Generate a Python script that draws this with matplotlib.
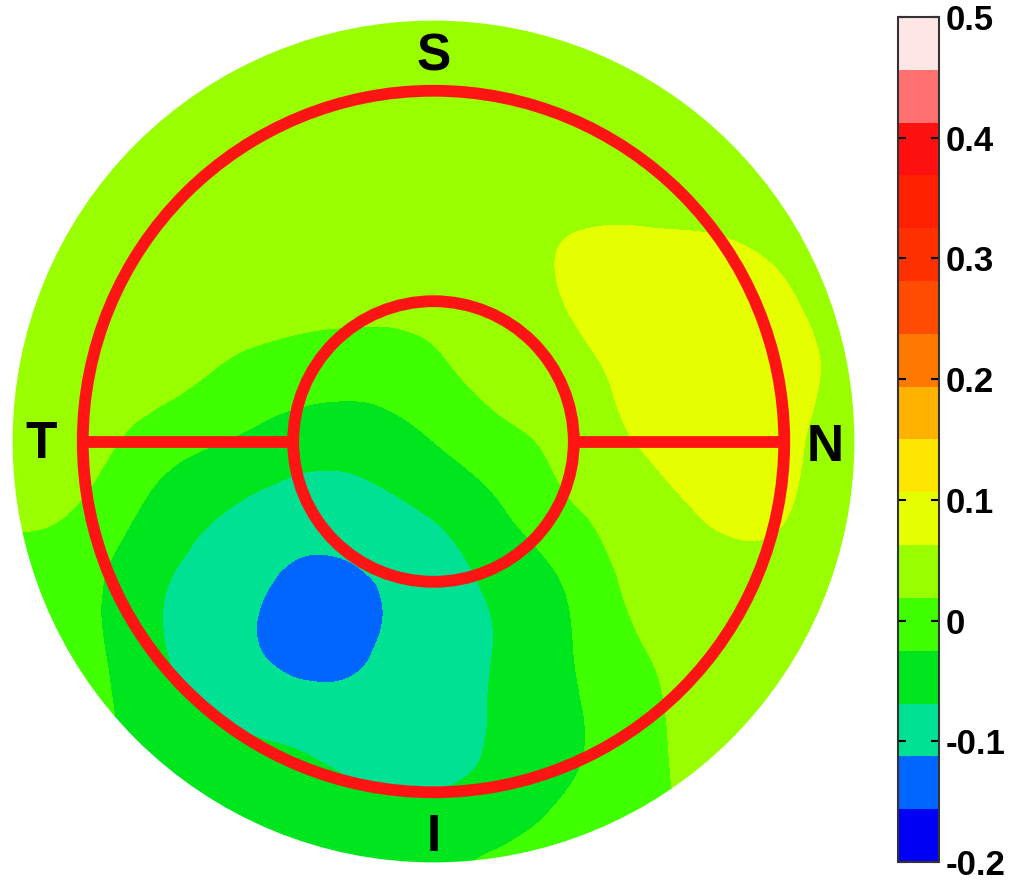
import numpy as np
import matplotlib
matplotlib.use("Agg")
import matplotlib.pyplot as plt
import matplotlib.tri as mtri
import matplotlib.colorbar as mcolorbar
from matplotlib.colors import ListedColormap, BoundaryNorm
from matplotlib.patches import Circle

x_nodes = [-3.0, -2.5, -2.0, -1.5, -1.0, -0.5, 0.0, 0.5, 1.0, 1.5, 2.0, 2.5, 3.0]
y_nodes = [3.0, 2.5, 2.0, 1.5, 1.0, 0.5, 0.0, -0.5, -1.0, -1.5, -2.0, -2.5, -3.0]

row_y30 = [0.040, 0.040, 0.040, 0.040, 0.040, 0.040, 0.040, 0.040, 0.040, 0.040, 0.040, 0.040, 0.040]
row_y25 = [0.040, 0.040, 0.040, 0.040, 0.040, 0.040, 0.040, 0.040, 0.043, 0.045, 0.045, 0.044, 0.040]
row_y20 = [0.040, 0.040, 0.040, 0.040, 0.040, 0.040, 0.040, 0.042, 0.046, 0.048, 0.048, 0.046, 0.042]
row_y15 = [0.040, 0.040, 0.040, 0.040, 0.040, 0.040, 0.040, 0.048, 0.062, 0.064, 0.061, 0.052, 0.045]
row_y10 = [0.040, 0.040, 0.040, 0.036, 0.030, 0.028, 0.032, 0.045, 0.066, 0.085, 0.090, 0.068, 0.045]
row_y05 = [0.040, 0.042, 0.036, 0.015, 0.000, -0.005, 0.008, 0.040, 0.052, 0.080, 0.090, 0.075, 0.050]
row_y00 = [0.034, 0.036, 0.000, -0.025, -0.047, -0.050, -0.025, 0.005, 0.036, 0.067, 0.085, 0.070, 0.045]
row_ym05 = [0.022, 0.013, -0.036, -0.068, -0.089, -0.085, -0.064, -0.027, 0.015, 0.042, 0.068, 0.064, 0.045]
row_ym10 = [0.010, -0.010, -0.060, -0.090, -0.120, -0.116, -0.090, -0.056, -0.016, 0.035, 0.050, 0.050, 0.040]
row_ym15 = [0.005, -0.010, -0.060, -0.095, -0.123, -0.116, -0.090, -0.064, -0.025, 0.017, 0.040, 0.040, 0.040]
row_ym20 = [0.000, -0.010, -0.045, -0.070, -0.085, -0.095, -0.093, -0.060, -0.030, 0.007, 0.035, 0.040, 0.040]
row_ym25 = [-0.010, -0.020, -0.030, -0.040, -0.050, -0.066, -0.068, -0.050, -0.022, 0.005, 0.035, 0.035, 0.030]
row_ym30 = [-0.010, -0.020, -0.030, -0.040, -0.040, -0.040, -0.035, -0.015, 0.000, 0.010, 0.025, 0.030, 0.030]

level_bounds = np.linspace(-0.2, 0.5, 17)
level_colors = ['#0000F5', '#0066FF', '#00E194', '#00E61E', '#40FF00', '#99FF00',
                '#E6FF00', '#FFE600', '#FFB300', '#FF7800', '#FF4C00', '#FF3000',
                '#FF2000', '#FF1010', '#FF7070', '#FFE6E6']
tick_values = [-0.2, -0.1, 0.0, 0.1, 0.2, 0.3, 0.4, 0.5]
tick_labels = ['-0.2', '-0.1', '0', '0.1', '0.2', '0.3', '0.4', '0.5']

sector_labels = ['S', 'T', 'N', 'I']
disc_radius = 3.0
outer_ring = 2.5
inner_ring = 1.0

# ---------------- figure ----------------
plt.rcParams['font.family'] = ['Liberation Sans', 'DejaVu Sans']
fig = plt.figure(figsize=(10.24, 8.84), dpi=100)

scale = 140.3  # px per mm
cx, cy = 433.5, 441.5
ax = fig.add_axes([0, 0, 890 / 1024, 1])
ax.set_xlim((0 - cx) / scale, (890 - cx) / scale)
ax.set_ylim((cy - 884) / scale, cy / scale)
ax.axis('off')

Z = np.array([row_y30, row_y25, row_y20, row_y15, row_y10, row_y05, row_y00,
              row_ym05, row_ym10, row_ym15, row_ym20, row_ym25, row_ym30])
X, Y = np.meshgrid(x_nodes, y_nodes)
nx, ny = len(x_nodes), len(y_nodes)
tris = []
for j in range(ny - 1):
    for i in range(nx - 1):
        a = j * nx + i
        b = a + 1
        c = a + nx
        d = c + 1
        tris.append([a, b, d])
        tris.append([a, d, c])
tri = mtri.Triangulation(X.ravel(), Y.ravel(), np.array(tris))
interp = mtri.CubicTriInterpolator(tri, Z.ravel(), kind='min_E')

xf = np.linspace(-3.0, 3.0, 601)
XX, YY = np.meshgrid(xf, xf)
ZZ = interp(XX, YY)
ZZ = np.ma.filled(ZZ, 0.0)

cmap = ListedColormap(level_colors)
norm = BoundaryNorm(level_bounds, cmap.N)
cs = ax.contourf(XX, YY, ZZ, levels=level_bounds, cmap=cmap, norm=norm)
clip = Circle((0, 0), disc_radius, transform=ax.transData)
cs.set_clip_path(clip)

red = '#FF1414'
lw = 8.5
for r in (outer_ring, inner_ring):
    ax.add_patch(Circle((0, 0), r, fill=False, edgecolor=red, linewidth=lw, zorder=3))
ax.plot([-outer_ring, -inner_ring], [0, 0], color=red, linewidth=lw, solid_capstyle='butt', zorder=3)
ax.plot([inner_ring, outer_ring], [0, 0], color=red, linewidth=lw, solid_capstyle='butt', zorder=3)

label_pos = {'S': (0.0, 2.74), 'T': (-2.80, -0.02), 'N': (2.79, -0.04), 'I': (0.0, -2.82)}
for lab in sector_labels:
    px, py = label_pos[lab]
    ax.text(px, py, lab, fontsize=37, fontweight='bold', ha='center', va='center', zorder=4)

# ---------------- colorbar ----------------
cax = fig.add_axes([898 / 1024, 22 / 884, 41 / 1024, 845 / 884])
cb = mcolorbar.ColorbarBase(cax, cmap=cmap, norm=norm, boundaries=level_bounds,
                            ticks=tick_values, orientation='vertical')
cb.set_ticklabels(tick_labels)
cb.outline.set_linewidth(1.5)
cb.outline.set_edgecolor('#333333')
cax.yaxis.set_ticks_position('both')
cax.tick_params(axis='y', direction='in', length=6, width=1.5, labelsize=25, pad=5,
                left=True, right=True, labelleft=False, labelright=True)
cax.minorticks_off()
for t in cax.get_yticklabels():
    t.set_fontweight('bold')

fig.savefig('out.png', dpi=100)
